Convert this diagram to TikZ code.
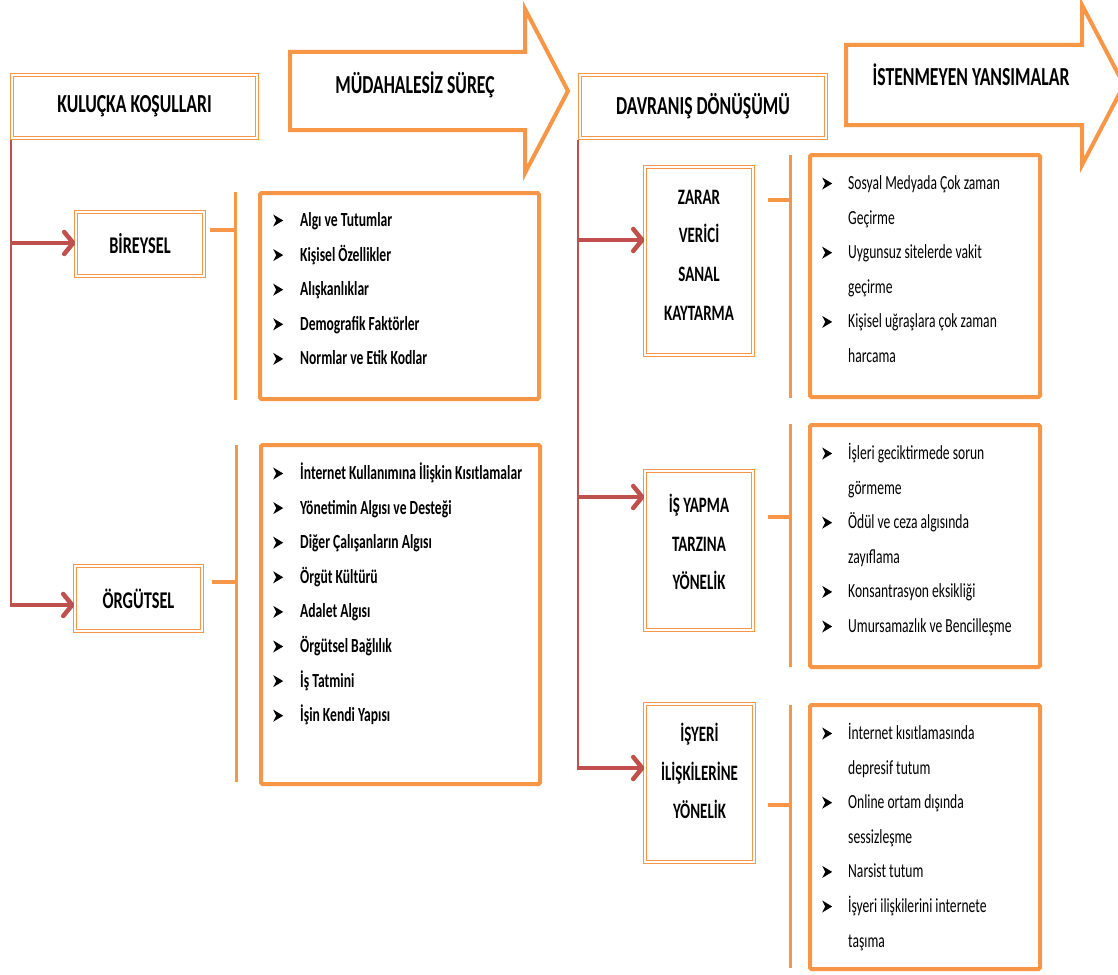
\documentclass[tikz,border=0pt]{standalone}
\usepackage{fontspec}
\setmainfont{Carlito}[FakeStretch=0.68]
\usetikzlibrary{arrows.meta}
\definecolor{org}{HTML}{F79646}
\definecolor{rd}{HTML}{C0504D}
\newcommand\bul{\tikz[baseline=0pt]\fill[black] (0pt,0pt) -- (10pt,6pt) -- (0pt,12pt) -- (3pt,6pt) -- cycle;}
\tikzset{
 dbox/.style={draw=org, line width=1.1pt, double=white, double distance=1.5pt, fill=white, inner sep=0pt, font=\bfseries\fontsize{24}{28}\selectfont},
 hfont/.style={font=\bfseries\fontsize{26}{30}\selectfont},
 listbox/.style={draw=org, line width=4pt, rounded corners=1.5pt, inner sep=0pt},
 bracket/.style={draw=org, line width=3pt},
 stub/.style={draw=org, line width=4pt},
 redline/.style={draw=rd, line width=2.5pt},
 redarrow/.style={draw=rd, line width=4.5pt, -{Straight Barb[length=9pt,width=22pt,round]}},
 blockarrow/.style={draw=org, line width=4pt, fill=white, line join=miter},
 itemsL/.style={anchor=base west, inner sep=0pt, font=\bfseries\fontsize{20}{34.6}\selectfont},
 itemsR/.style={anchor=base west, inner sep=0pt, font=\fontsize{20}{34.6}\selectfont},
 multi/.style={align=center, inner sep=0pt, font=\bfseries\fontsize{22}{38.7}\selectfont},
}
\begin{document}
\begin{tikzpicture}[x=1pt,y=-1pt]
\useasboundingbox[fill=white] (0,0) rectangle (1118,974);

% block arrows
\draw[blockarrow] (290,52) -- (525,52) -- (525,9) -- (568,91) -- (525,173) -- (525,130) -- (290,130) -- cycle;
\node[hfont] (mud) at (415,85) {MÜDAHALESİZ SÜREÇ};
\draw[blockarrow] (846,45) -- (1082,45) -- (1082,5) -- (1124,85) -- (1082,165) -- (1082,125) -- (846,125) -- cycle;
\node[hfont] (ist) at (971,75) {İSTENMEYEN YANSIMALAR};

% header boxes
\node[dbox, hfont, minimum width=245, minimum height=63] (kul) at (134.5,106.5) {KULUÇKA KOŞULLARI};
\node[dbox, hfont, minimum width=246, minimum height=63] (dav) at (703,106.5) {DAVRANIŞ DÖNÜŞÜMÜ};

% category boxes
\node[dbox, minimum width=128, minimum height=64] (bir) at (140,244) {BİREYSEL};
\node[dbox, minimum width=127, minimum height=65] (org) at (138.5,598.5) {ÖRGÜTSEL};

\node[dbox, minimum width=108, minimum height=188] (zar) at (699,261) {};
\node[multi] (zart) at (699,255) {ZARAR\\VERİCİ\\SANAL\\KAYTARMA};
\node[dbox, minimum width=108, minimum height=159] (isy) at (699,550.5) {};
\node[multi] (isyt) at (699,542) {İŞ YAPMA\\TARZINA\\YÖNELİK};
\node[dbox, minimum width=109, minimum height=158] (iye) at (699.5,783) {};
\node[multi] (iyet) at (699.5,771) {İŞYERİ\\İLİŞKİLERİNE\\YÖNELİK};

% list boxes
\node[listbox, minimum width=279, minimum height=206] (l1) at (399.5,296) {};
\node[listbox, minimum width=279, minimum height=339] (l2) at (400.5,614.5) {};
\node[listbox, minimum width=230, minimum height=242] (r1) at (925,276) {};
\node[listbox, minimum width=230, minimum height=242] (r2) at (925,546) {};
\node[listbox, minimum width=230, minimum height=264] (r3) at (925,837) {};

\node[itemsL] (l1t) at (273,226.5) {\begin{tabular}[t]{@{}l@{\hspace{17pt}}l@{}}
\bul & Algı ve Tutumlar\\
\bul & Kişisel Özellikler\\
\bul & Alışkanlıklar\\
\bul & Demografik Faktörler\\
\bul & Normlar ve Etik Kodlar
\end{tabular}};
\node[itemsL] (l2t) at (273,479.5) {\begin{tabular}[t]{@{}l@{\hspace{17pt}}l@{}}
\bul & İnternet Kullanımına İlişkin Kısıtlamalar\\
\bul & Yönetimin Algısı ve Desteği\\
\bul & Diğer Çalışanların Algısı\\
\bul & Örgüt Kültürü\\
\bul & Adalet Algısı\\
\bul & Örgütsel Bağlılık\\
\bul & İş Tatmini\\
\bul & İşin Kendi Yapısı
\end{tabular}};
\node[itemsR] (r1t) at (822,189.5) {\begin{tabular}[t]{@{}l@{\hspace{16pt}}l@{}}
\bul & Sosyal Medyada Çok zaman\\
 & Geçirme\\
\bul & Uygunsuz sitelerde vakit\\
 & geçirme\\
\bul & Kişisel uğraşlara çok zaman\\
 & harcama
\end{tabular}};
\node[itemsR] (r2t) at (822,459.5) {\begin{tabular}[t]{@{}l@{\hspace{16pt}}l@{}}
\bul & İşleri geciktirmede sorun\\
 & görmeme\\
\bul & Ödül ve ceza algısında\\
 & zayıflama\\
\bul & Konsantrasyon eksikliği\\
\bul & Umursamazlık ve Bencilleşme
\end{tabular}};
\node[itemsR] (r3t) at (822,739.5) {\begin{tabular}[t]{@{}l@{\hspace{16pt}}l@{}}
\bul & İnternet kısıtlamasında\\
 & depresif tutum\\
\bul & Online ortam dışında\\
 & sessizleşme\\
\bul & Narsist tutum\\
\bul & İşyeri ilişkilerini internete\\
 & taşıma
\end{tabular}};

% orange brackets and stubs
\coordinate (b1t) at (235,192); \coordinate (b1b) at (235,400); \coordinate (s1) at (210,230);
\coordinate (b2t) at (236,445); \coordinate (b2b) at (236,782); \coordinate (s2) at (212,582);
\coordinate (b3t) at (790,155); \coordinate (b3b) at (790,398); \coordinate (s3) at (768,200);
\coordinate (b4t) at (790,424); \coordinate (b4b) at (790,667); \coordinate (s4) at (768,517);
\coordinate (b5t) at (790,705); \coordinate (b5b) at (790,968); \coordinate (s5) at (768,805);
\draw[bracket] (b1t) -- (b1b); \draw[stub] (s1) -- (s1 -| b1t);
\draw[bracket] (b2t) -- (b2b); \draw[stub] (s2) -- (s2 -| b2t);
\draw[bracket] (b3t) -- (b3b); \draw[stub] (s3) -- (s3 -| b3t);
\draw[bracket] (b4t) -- (b4b); \draw[stub] (s4) -- (s4 -| b4t);
\draw[bracket] (b5t) -- (b5b); \draw[stub] (s5) -- (s5 -| b5t);

% red connectors
\coordinate (k0) at (11,140);
\coordinate (k1) at (11,243);
\coordinate (k2) at (11,605);
\draw[redline] (k0) -- (k2);
\draw[redarrow] (k1) -- (bir.west |- k1);
\draw[redarrow] (9.75,605) -- (org.west |- k2);
\coordinate (d0) at (578,140);
\coordinate (d1) at (578,240);
\coordinate (d2) at (578,497);
\coordinate (d3) at (578,768);
\draw[redline] (d0) -- (d3);
\draw[redarrow] (d1) -- (zar.west |- d1);
\draw[redarrow] (d2) -- (isy.west |- d2);
\draw[redarrow] (576.75,768) -- (iye.west |- d3);
\end{tikzpicture}
\end{document}
